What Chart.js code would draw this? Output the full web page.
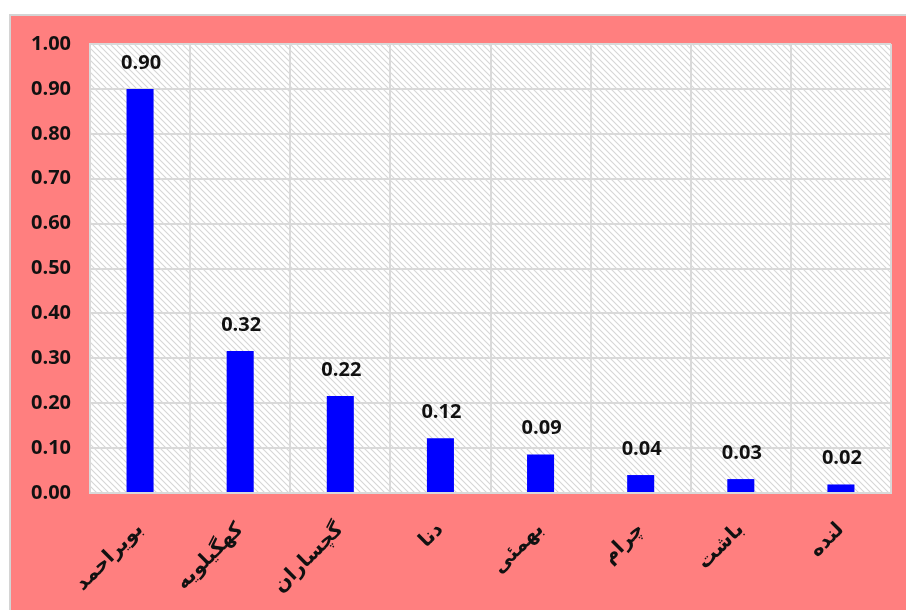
<!DOCTYPE html>
<html><head><meta charset="utf-8">
<script src="https://cdn.jsdelivr.net/npm/chart.js@4.4.0/dist/chart.umd.min.js"></script>
<style>html,body{margin:0;padding:0;background:#fff;overflow:hidden;}canvas{display:block;}</style>
</head><body>
<canvas id="c" width="906" height="610" style="width:906px;height:610px"></canvas>
<script>
const categories = ['بویراحمد','کهگیلویه','گچساران','دنا','بهمئی','چرام','باشت','لنده'];
const values = [0.90, 0.316, 0.216, 0.122, 0.086, 0.040, 0.031, 0.019];
const yMin = 0, yMax = 1.0, yStep = 0.1;

const PINK = '#FF7F7F';
const GRID = '#d9d9d9';
const NUM_FONT = '"Open Sans", Lato, sans-serif';

function makeHatch(){
  const s = 6;
  const p = document.createElement('canvas');
  p.width = s; p.height = s;
  const g = p.getContext('2d');
  g.fillStyle = '#ffffff'; g.fillRect(0,0,s,s);
  g.strokeStyle = '#d6d6d6'; g.lineWidth = 1.1;
  g.beginPath();
  g.moveTo(-1,-1); g.lineTo(s+1,s+1);
  g.moveTo(-1,s-1); g.lineTo(1,s+1);
  g.moveTo(s-1,-1); g.lineTo(s+1,1);
  g.stroke();
  return p;
}

const bgPlugin = {
  id:'bg',
  beforeDraw(chart){
    const ctx = chart.ctx, W = chart.width, H = chart.height;
    ctx.save();
    ctx.fillStyle = '#ffffff'; ctx.fillRect(0,0,W,H);
    ctx.fillStyle = '#d4d4d4'; ctx.fillRect(9,14,W-9,H-14);
    ctx.fillStyle = PINK; ctx.fillRect(11,16,W-11,H-16);
    const a = chart.chartArea;
    ctx.fillStyle = ctx.createPattern(makeHatch(),'repeat');
    ctx.fillRect(a.left,a.top,a.right-a.left,a.bottom-a.top);
    ctx.restore();
  }
};

const labelPlugin = {
  id:'vlabels',
  afterDatasetsDraw(chart){
    const ctx = chart.ctx;
    const meta = chart.getDatasetMeta(0);
    ctx.save();
    ctx.font = 'bold 20px ' + NUM_FONT;
    ctx.fillStyle = '#111111';
    ctx.textAlign = 'center';
    ctx.textBaseline = 'middle';
    meta.data.forEach((bar,i)=>{
      ctx.fillText(values[i].toFixed(2), bar.x + 1, bar.y - 26);
    });
    ctx.restore();
  }
};

new Chart(document.getElementById('c'), {
  type:'bar',
  data:{
    labels: categories,
    datasets:[{
      data: values,
      backgroundColor:'#0000FF',
      borderWidth:0,
      categoryPercentage:1.0,
      barPercentage:0.27
    }]
  },
  options:{
    responsive:false,
    devicePixelRatio:1,
    animation:false,
    layout:{padding:{left:11, top:44, right:15, bottom:0}},
    plugins:{legend:{display:false}, tooltip:{enabled:false}},
    scales:{
      x:{
        grid:{color:GRID, lineWidth:2, drawTicks:false, offset:true},
        border:{color:GRID, width:2},
        ticks:{
          minRotation:45, maxRotation:45, padding:25,
          color:'#111111',
          font:{family:'"DejaVu Sans", sans-serif', size:20, weight:'bold'}
        },
        afterFit(s){ s.height = 117; }
      },
      y:{
        min:yMin, max:yMax,
        grid:{color:GRID, lineWidth:2, drawTicks:false},
        border:{color:GRID, width:2},
        ticks:{
          stepSize:yStep, padding:19, color:'#111111',
          font:{family:NUM_FONT, size:20, weight:'bold'},
          callback:v=>Number(v).toFixed(2)
        },
        afterFit(s){ s.width = 79; }
      }
    }
  },
  plugins:[bgPlugin, labelPlugin]
});
</script>
</body></html>
